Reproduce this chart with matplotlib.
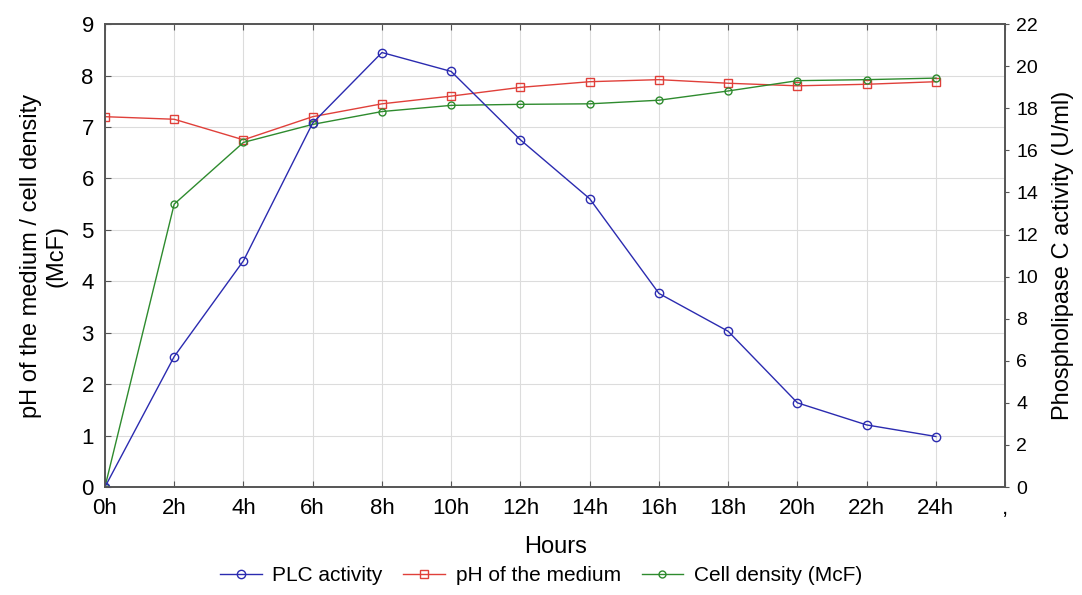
import numpy as np
import matplotlib
matplotlib.use('Agg')
import matplotlib.pyplot as plt

plt.rcParams['font.family'] = ['Liberation Sans', 'DejaVu Sans']

hours = ['0h', '2h', '4h', '6h', '8h', '10h', '12h', '14h', '16h', '18h', '20h', '22h', '24h']
plc = [0.0, 6.2, 10.75, 17.3, 20.65, 19.75, 16.5, 13.7, 9.2, 7.4, 4.0, 2.95, 2.4]
ph = [7.2, 7.15, 6.75, 7.2, 7.45, 7.6, 7.77, 7.88, 7.92, 7.85, 7.8, 7.83, 7.88]
cells = [0.0, 5.5, 6.7, 7.05, 7.3, 7.42, 7.44, 7.45, 7.52, 7.7, 7.9, 7.92, 7.95]
tick_labels = hours + [',']

blue = '#2b2bb0'
red = '#e0403a'
green = '#2e8b2e'

fig = plt.figure(figsize=(10.82, 5.95), dpi=100)
ax = fig.add_axes([0.097, 0.1815, 0.832, 0.778])
ax2 = ax.twinx()

x = np.arange(len(hours))

l1, = ax2.plot(x, plc, color=blue, lw=1.0, marker='o', ms=6, mfc='none', mew=1.0, label='PLC activity')
l2, = ax.plot(x, ph, color=red, lw=1.0, marker='s', ms=6, mfc='none', mew=1.0, label='pH of the medium')
l3, = ax.plot(x, cells, color=green, lw=1.0, marker='o', ms=5, mfc='none', mew=1.0, label='Cell density (McF)')

ax.set_xlim(0, len(hours))
ax.set_xticks(np.arange(len(tick_labels)))
ax.set_xticklabels(tick_labels)
ax.set_ylim(0, 9)
ax.set_yticks(range(10))
ax2.set_ylim(0, 22)
ax2.set_yticks(range(0, 23, 2))

ax.grid(True, color='#dcdcdc', lw=0.8)
ax.set_axisbelow(True)

for a in (ax, ax2):
    for s in a.spines.values():
        s.set_color('#555555')
        s.set_linewidth(1.2)
ax.tick_params(axis='x', direction='in', top=True, labelsize=16, length=4, pad=8, color='#555555')
ax.tick_params(axis='y', direction='in', labelsize=16, length=4, pad=8, color='#555555')
ax2.tick_params(axis='y', direction='out', labelsize=14, length=3, pad=5, color='#555555')

ax.set_xlabel('Hours', fontsize=17, labelpad=12)
ax.set_ylabel('pH of the medium / cell density\n(McF)', fontsize=17, labelpad=10)
ax2.set_ylabel('Phospholipase C activity (U/ml)', fontsize=17, labelpad=10)

fig.legend(handles=[l1, l2, l3], loc='lower center', bbox_to_anchor=(0.5, -0.015), ncol=3,
           frameon=False, fontsize=15, handlelength=2.0, handletextpad=0.5, columnspacing=1.0)

fig.savefig('out.png', dpi=100)
